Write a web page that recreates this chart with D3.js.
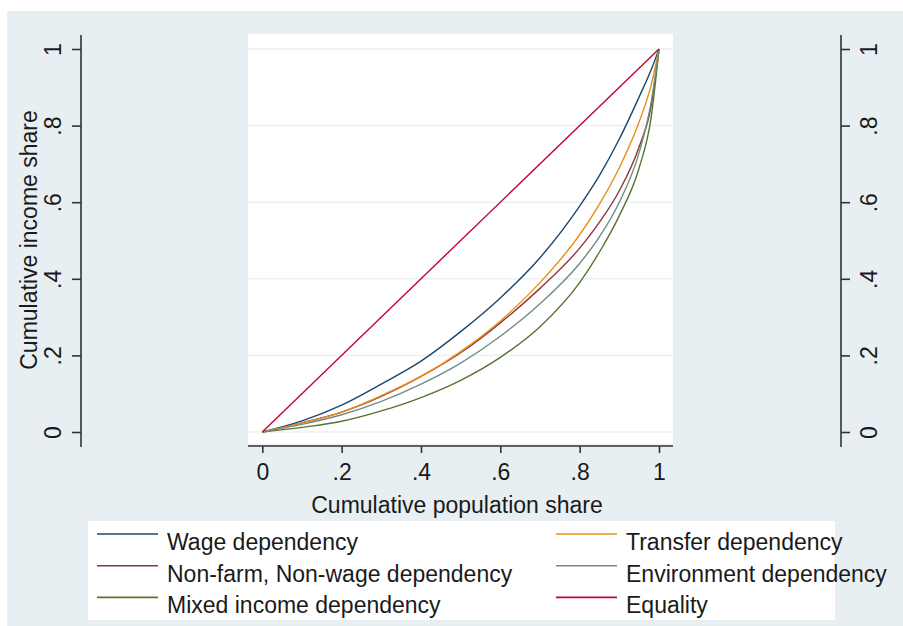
<!DOCTYPE html>
<html lang="en">
<head>
    <meta charset="UTF-8">
    <title>Lorenz curves by income dependency</title>
    <script src="https://cdn.jsdelivr.net/npm/d3@7"></script>
    <style>
        body{
            margin: 0;
            background: #ffffff;
        }
        svg text{
            font-family: "Liberation Sans", Arial, sans-serif;
            fill: #1a1a1a;
        }
    </style>
</head>
<body>
<svg id="main" width="903" height="626"></svg>
<script>

    // cumulative population share (x) where the curves were read
    const popShare = [0, .1, .2, .3, .4, .5, .6, .7, .8, .85, .9, .95, .98, 1];

    // cumulative income share for each group
    const wage        = [0, .029, .07, .125, .185, .262, .35, .455, .59, .67, .765, .875, .945, 1];
    const nonfarm     = [0, .024, .052, .093, .145, .207, .285, .375, .48, .548, .63, .745, .85, 1];
    const mixed       = [0, .012, .028, .055, .09, .135, .195, .275, .39, .47, .565, .69, .82, 1];
    const transfer    = [0, .024, .052, .095, .145, .21, .29, .39, .515, .595, .69, .81, .905, 1];
    const environment = [0, .02, .045, .08, .125, .18, .25, .335, .44, .51, .6, .73, .86, 1];
    const equalityX   = [0, 1];
    const equalityY   = [0, 1];

    const xTicks = [0, .2, .4, .6, .8, 1];
    const yTicks = [0, .2, .4, .6, .8, 1];
    const tickLabel = d => d === 0 ? "0" : d === 1 ? "1" : String(d).replace("0.", ".");

    const series = [
        {name: "Wage dependency",               x: popShare,  y: wage,        color: "#1a476f"},
        {name: "Non-farm, Non-wage dependency", x: popShare,  y: nonfarm,     color: "#90353b"},
        {name: "Mixed income dependency",       x: popShare,  y: mixed,       color: "#55752f"},
        {name: "Transfer dependency",           x: popShare,  y: transfer,    color: "#eb8d16"},
        {name: "Environment dependency",        x: popShare,  y: environment, color: "#6e8e84"},
        {name: "Equality",                      x: equalityX, y: equalityY,   color: "#c10534"}
    ];
    // legend is 2 columns, filled column first
    const legendOrder = [0, 3, 1, 4, 2, 5];

    const fontSize = 23;
    const svg = d3.select("svg#main");

    // graph region
    svg.append("rect")
        .attr("x", 7).attr("y", 11)
        .attr("width", 896).attr("height", 615)
        .attr("fill", "#e8eff2");

    const plot = {left: 248, right: 673, top: 34, bottom: 444};

    svg.append("rect")
        .attr("x", plot.left).attr("y", plot.top)
        .attr("width", plot.right - plot.left).attr("height", plot.bottom - plot.top)
        .attr("fill", "#ffffff");

    const x = d3.scaleLinear().domain([0, 1]).range([262.3, 659]);
    const y = d3.scaleLinear().domain([0, 1]).range([432, 49]);

    // grid lines
    svg.append("g")
        .selectAll("line")
        .data(yTicks)
        .enter()
        .append("line")
        .attr("x1", plot.left).attr("x2", plot.right)
        .attr("y1", d => y(d)).attr("y2", d => y(d))
        .attr("stroke", "#eaf2f3")
        .attr("stroke-width", 1.5);

    // curves
    const line = d3.line()
        .x(d => x(d[0]))
        .y(d => y(d[1]))
        .curve(d3.curveMonotoneX);

    svg.append("g")
        .selectAll("path")
        .data(series)
        .enter()
        .append("path")
        .attr("d", s => line(s.x.map((v, i) => [v, s.y[i]])))
        .attr("fill", "none")
        .attr("stroke", s => s.color)
        .attr("stroke-width", 1.4);

    // x axis
    const xAxis = svg.append("g")
        .attr("transform", "translate(0,446)")
        .call(d3.axisBottom(x).tickValues(xTicks).tickFormat(tickLabel).tickSize(7).tickSizeOuter(0));
    xAxis.select(".domain").remove();
    xAxis.append("line")
        .attr("x1", plot.left).attr("x2", plot.right)
        .attr("stroke", "#333").attr("stroke-width", 1.6);
    xAxis.selectAll(".tick line").attr("stroke", "#333").attr("stroke-width", 1.6);
    xAxis.selectAll(".tick text")
        .attr("font-size", fontSize)
        .attr("dy", null)
        .attr("y", 34)
        .style("fill", "#1a1a1a");

    svg.append("text")
        .attr("x", 457).attr("y", 513)
        .attr("text-anchor", "middle")
        .attr("font-size", fontSize)
        .text("Cumulative population share");

    // left and right y axes
    function yAxisAt(xPos, side){
        const g = svg.append("g").attr("transform", `translate(${xPos},0)`);
        const axis = side === "left" ? d3.axisLeft(y) : d3.axisRight(y);
        g.call(axis.tickValues(yTicks).tickFormat(tickLabel).tickSize(9).tickSizeOuter(0));
        g.select(".domain").remove();
        g.append("line")
            .attr("y1", 35).attr("y2", 447)
            .attr("stroke", "#333").attr("stroke-width", 1.6);
        g.selectAll(".tick line").attr("stroke", "#333").attr("stroke-width", 1.6);
        g.selectAll(".tick text")
            .attr("x", null).attr("dy", null)
            .attr("text-anchor", "middle")
            .attr("font-size", fontSize)
            .attr("transform", side === "left" ? "translate(-20,0) rotate(-90)" : "translate(36,0) rotate(-90)")
            .style("fill", "#1a1a1a");
    }
    yAxisAt(81, "left");
    yAxisAt(841, "right");

    svg.append("text")
        .attr("transform", "translate(37,240) rotate(-90)")
        .attr("text-anchor", "middle")
        .attr("font-size", fontSize)
        .text("Cumulative income share");

    // legend
    svg.append("rect")
        .attr("x", 88).attr("y", 521)
        .attr("width", 747).attr("height", 99)
        .attr("fill", "#ffffff");

    const legend = svg.append("g")
        .selectAll("g")
        .data(legendOrder.map(i => series[i]))
        .enter()
        .append("g")
        .attr("transform", (d, i) => `translate(${i % 2 === 0 ? 97 : 556},${550 + Math.floor(i / 2) * 31.7})`);

    legend.append("line")
        .attr("x1", 0).attr("x2", 61)
        .attr("y1", -16).attr("y2", -16)
        .attr("stroke", d => d.color)
        .attr("stroke-width", 1.6);

    legend.append("text")
        .attr("x", 70)
        .attr("font-size", fontSize)
        .text(d => d.name);

</script>
</body>
</html>
